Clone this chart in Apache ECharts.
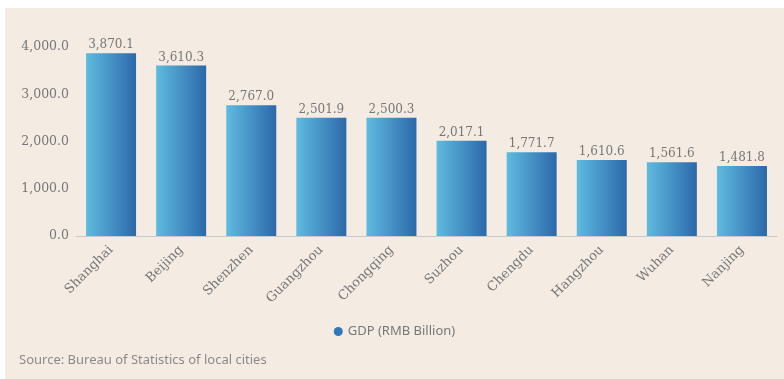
<!DOCTYPE html>
<html>
<head>
<meta charset="utf-8">
<script src="https://cdn.jsdelivr.net/npm/echarts@6/dist/echarts.min.js"></script>
<style>
  html, body { margin: 0; padding: 0; background: #ffffff; }
  #chart { position: absolute; left: 5px; top: 8px; width: 779px; height: 371px; }
</style>
</head>
<body>
<div id="chart"></div>
<script>
// City GDP, RMB billion
const cities = ['Shanghai', 'Beijing', 'Shenzhen', 'Guangzhou', 'Chongqing', 'Suzhou', 'Chengdu', 'Hangzhou', 'Wuhan', 'Nanjing'];
const gdp = [3870.1, 3610.3, 2767.0, 2501.9, 2500.3, 2017.1, 1771.7, 1610.6, 1561.6, 1481.8];
const seriesName = 'GDP (RMB Billion)';
const sourceNote = 'Source: Bureau of Statistics of local cities';

const fmt = v => Number(v).toLocaleString('en-US', { minimumFractionDigits: 1, maximumFractionDigits: 1 });

const serif = '"DejaVu Serif", "Liberation Serif", serif';
const sans = '"Noto Sans", "Open Sans", sans-serif';

const barFill = new echarts.graphic.LinearGradient(0, 0, 1, 0, [
  { offset: 0, color: '#5fbbe0' },
  { offset: 1, color: '#2c68aa' }
]);

const chart = echarts.init(document.getElementById('chart'));
chart.setOption({
  backgroundColor: '#f4ece2',
  animation: false,
  grid: { left: 71, right: 7, top: 39, bottom: 143 },
  legend: {
    data: [{ name: seriesName, icon: 'circle', itemStyle: { color: '#2f78b8' } }],
    bottom: 36,
    left: 'center',
    itemWidth: 9,
    itemHeight: 9,
    itemGap: 6,
    textStyle: { fontFamily: sans, fontSize: 13, color: '#777' }
  },
  graphic: [{
    type: 'text',
    left: 14,
    bottom: 12,
    style: { text: sourceNote, fontFamily: sans, fontSize: 13, fill: '#8a8a8a' }
  }],
  xAxis: {
    type: 'category',
    data: cities,
    axisLine: { lineStyle: { color: '#c9c9c9' } },
    axisTick: { show: false },
    axisLabel: {
      rotate: 45,
      margin: 12,
      fontFamily: serif,
      fontSize: 13,
      color: '#777'
    }
  },
  yAxis: {
    type: 'value',
    min: 0,
    max: 4000,
    interval: 1000,
    splitLine: { show: false },
    axisLine: { show: false },
    axisTick: { show: false },
    axisLabel: {
      formatter: v => fmt(v),
      fontFamily: serif,
      fontSize: 12.5,
      color: '#777',
      margin: 7
    }
  },
  series: [{
    name: seriesName,
    type: 'bar',
    data: gdp,
    barWidth: 50,
    itemStyle: { color: barFill },
    label: {
      show: true,
      position: 'top',
      distance: 2,
      formatter: p => fmt(p.value),
      fontFamily: serif,
      fontSize: 12,
      color: '#777'
    }
  }]
});
</script>
</body>
</html>
